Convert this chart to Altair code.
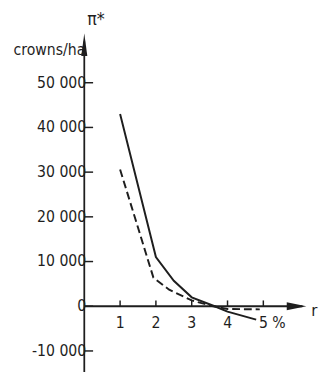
import altair as alt
import pandas as pd

# ---- data ----
r_solid = [1.0, 2.0, 2.5, 3.0, 3.64, 4.0, 4.8]
pi_solid = [43000, 11000, 5700, 2000, 0, -1200, -3000]
r_dashed = [1.0, 1.93, 2.37, 3.0, 3.6, 4.0, 4.9]
pi_dashed = [30600, 6400, 3700, 1300, 0, -600, -700]

y_ticks = [50000, 40000, 30000, 20000, 10000, 0, -10000]
y_tick_labels = ["50 000", "40 000", "30 000", "20 000", "10 000", "0", "-10 000"]
x_ticks = [1, 2, 3, 4, 5]
x_tick_labels = ["1", "2", "3", "4", "5 %"]

y_unit = ["crowns/ha"]
y_title = ["π*"]
x_title = ["r"]

# ---- styling ----
X_DOMAIN = [0, 6.2]
Y_DOMAIN = [-14700, 61000]
W, H = 227, 346
FONT = "DejaVu Sans Condensed, Liberation Sans Narrow, DejaVu Sans, sans-serif"
INK = "#1e1e1e"

xs = alt.Scale(domain=X_DOMAIN, nice=False, zero=False)
ys = alt.Scale(domain=Y_DOMAIN, nice=False, zero=False)

solid_df = pd.DataFrame({"r": r_solid, "pi": pi_solid})
dashed_df = pd.DataFrame({"r": r_dashed, "pi": pi_dashed})
yt_df = pd.DataFrame({"v": y_ticks, "label": y_tick_labels})
xt_df = pd.DataFrame({"v": x_ticks, "label": x_tick_labels})
one = pd.DataFrame({"k": [0]})

solid = alt.Chart(solid_df).mark_line(color=INK, strokeWidth=2, clip=False).encode(
    x=alt.X("r:Q", scale=xs, axis=None),
    y=alt.Y("pi:Q", scale=ys, axis=None),
)
dashed = alt.Chart(dashed_df).mark_line(color=INK, strokeWidth=2, strokeDash=[8, 4], clip=False).encode(
    x=alt.X("r:Q", scale=xs, axis=None),
    y=alt.Y("pi:Q", scale=ys, axis=None),
)

y_axis = alt.Chart(one).mark_rule(color=INK, strokeWidth=1.8).encode(
    x=alt.X(datum=0, scale=xs, axis=None),
    y=alt.value(8),
    y2=alt.value(H),
)
x_axis = alt.Chart(one).mark_rule(color=INK, strokeWidth=1.8).encode(
    y=alt.Y(datum=0, scale=ys, axis=None),
    x=alt.value(0),
    x2=alt.value(W - 4),
)
y_arrow = alt.Chart(one).mark_point(
    shape="M0,-1L0.27,1L-0.27,1Z", filled=True, size=529, color=INK, opacity=1, strokeWidth=0
).encode(
    x=alt.X(datum=0, scale=xs, axis=None),
    y=alt.value(11.5),
)
x_arrow = alt.Chart(one).mark_point(
    shape="M1,0L-1,-0.4L-1,0.4Z", filled=True, size=400, color=INK, opacity=1, strokeWidth=0
).encode(
    x=alt.value(W - 10),
    y=alt.Y(datum=0, scale=ys, axis=None),
)

y_tick_marks = alt.Chart(yt_df).mark_rule(color=INK, strokeWidth=1.5).encode(
    y=alt.Y("v:Q", scale=ys, axis=None),
    x=alt.value(0),
    x2=alt.value(9),
)
y_tick_text = alt.Chart(yt_df).mark_text(
    align="right", baseline="middle", dx=2, font=FONT, fontSize=16, color=INK
).encode(
    y=alt.Y("v:Q", scale=ys, axis=None),
    x=alt.value(0),
    text="label:N",
)
x_tick_marks = alt.Chart(xt_df).mark_rule(color=INK, strokeWidth=1.5).encode(
    x=alt.X("v:Q", scale=xs, axis=None),
    y=alt.Y(datum=0, scale=ys, axis=None),
    y2=alt.Y2(datum=1300),
)
x_tick_text = alt.Chart(xt_df).mark_text(
    align="left", baseline="top", dx=-4.5, dy=9, font=FONT, fontSize=16, color=INK
).encode(
    x=alt.X("v:Q", scale=xs, axis=None),
    y=alt.Y(datum=0, scale=ys, axis=None),
    text="label:N",
)

unit_text = alt.Chart(pd.DataFrame({"t": y_unit})).mark_text(
    align="right", baseline="middle", font=FONT, fontSize=16, color=INK
).encode(x=alt.value(1), y=alt.value(17), text="t:N")
ytitle_text = alt.Chart(pd.DataFrame({"t": y_title})).mark_text(
    align="left", baseline="middle", font=FONT, fontSize=18, color=INK
).encode(x=alt.value(3), y=alt.value(-14), text="t:N")
xtitle_text = alt.Chart(pd.DataFrame({"t": x_title})).mark_text(
    align="left", baseline="middle", font=FONT, fontSize=17, color=INK
).encode(x=alt.value(W + 5), y=alt.value(284), text="t:N")

chart = alt.layer(
    y_axis, x_axis, y_arrow, x_arrow, y_tick_marks, y_tick_text, x_tick_marks, x_tick_text,
    dashed, solid, unit_text, ytitle_text, xtitle_text,
).properties(
    width=W,
    height=H,
    padding={"left": 78, "top": 22, "right": 14, "bottom": 0},
    autosize=alt.AutoSizeParams(type="none"),
    background="white",
).configure_view(stroke=None)

chart.save("out.html", embed_options={"renderer": "svg", "actions": False})
